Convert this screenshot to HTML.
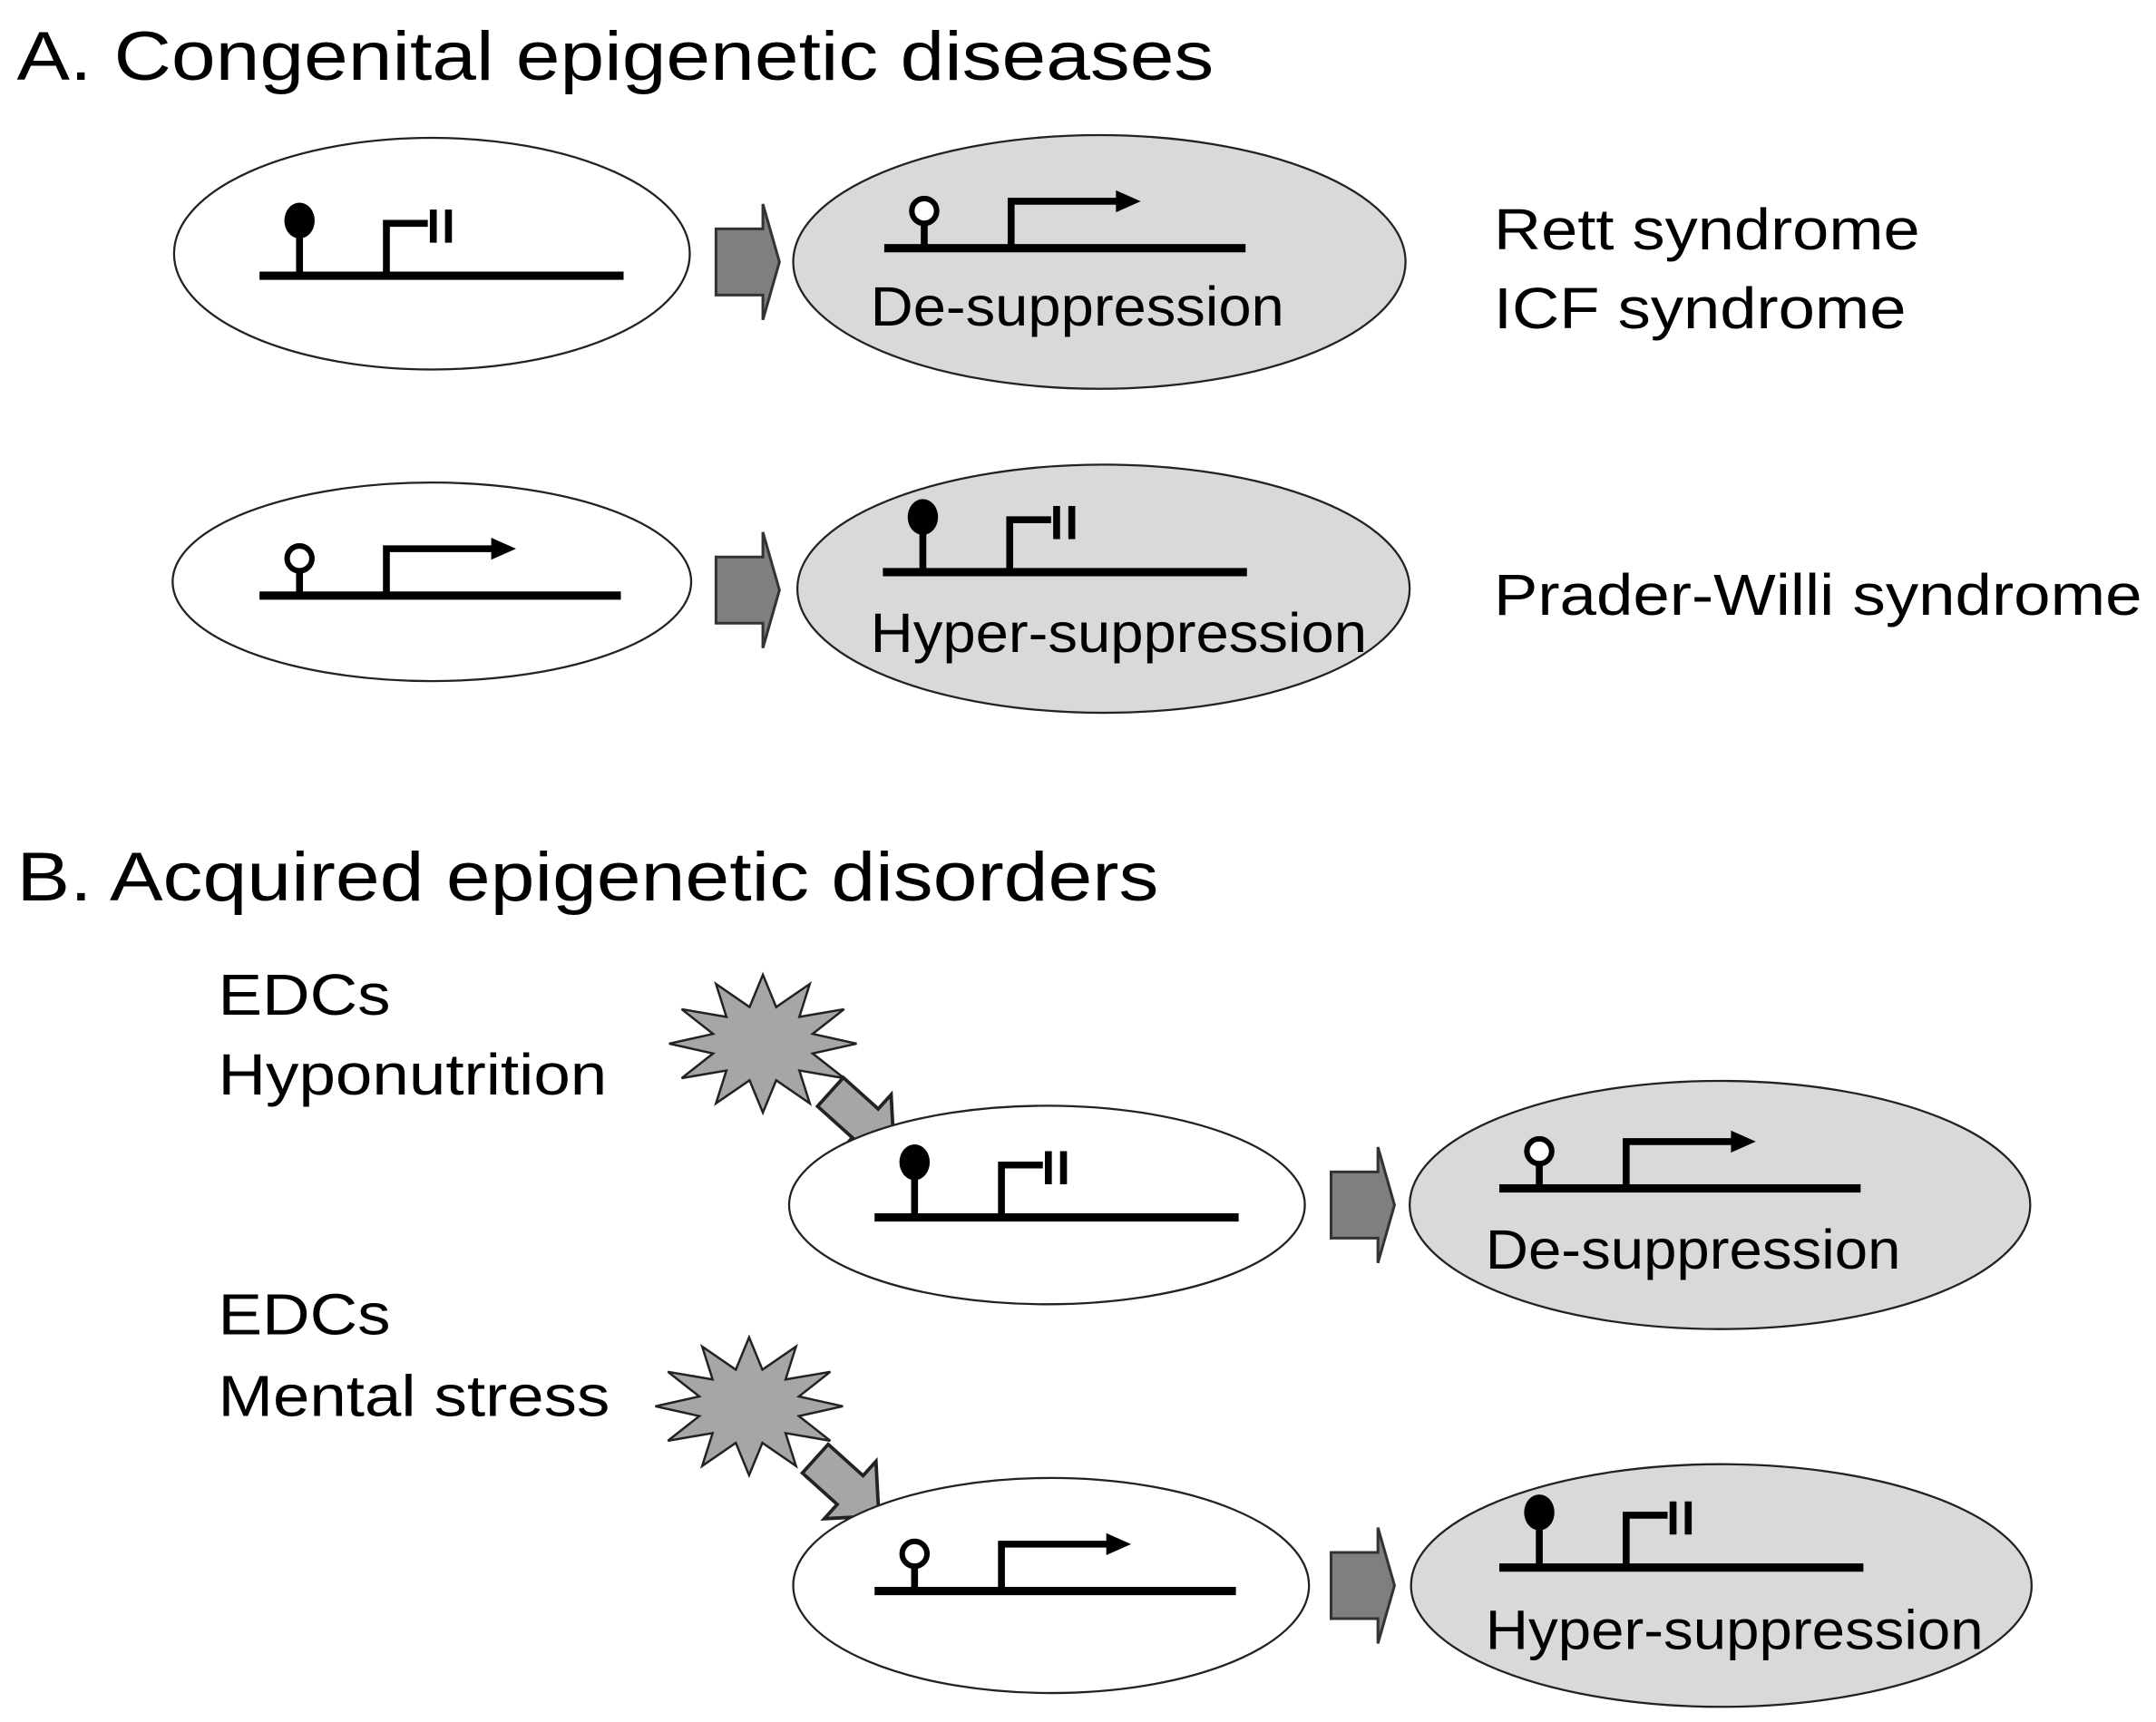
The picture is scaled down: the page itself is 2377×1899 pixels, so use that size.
<!DOCTYPE html>
<html><head><meta charset="utf-8"><style>html,body{margin:0;padding:0;background:#fff}svg{display:block}</style></head>
<body>
<svg width="2377" height="1899" viewBox="0 0 1563 1249" xmlns="http://www.w3.org/2000/svg" font-family="Liberation Sans, Arial, sans-serif">
<defs>
<g id="sup">
<line x1="0" y1="0" x2="264" y2="0" stroke="#000" stroke-width="6"/>
<line x1="29" y1="0" x2="29" y2="-32" stroke="#000" stroke-width="5"/>
<ellipse cx="29" cy="-40" rx="11" ry="13" fill="#000"/>
<polyline points="92,0 92,-38 122,-38" fill="none" stroke="#000" stroke-width="5"/>
<line x1="126" y1="-48" x2="126" y2="-24" stroke="#000" stroke-width="5"/>
<line x1="137" y1="-48" x2="137" y2="-24" stroke="#000" stroke-width="5"/>
</g>
<g id="act">
<line x1="0" y1="0" x2="262" y2="0" stroke="#000" stroke-width="6"/>
<line x1="29" y1="0" x2="29" y2="-18" stroke="#000" stroke-width="5"/>
<circle cx="29" cy="-27" r="9" fill="#fff" stroke="#000" stroke-width="4"/>
<polyline points="92,0 92,-34 172,-34" fill="none" stroke="#000" stroke-width="5"/>
<polygon points="168,-42 186,-34 168,-26" fill="#000"/>
</g>
<path id="rarr" d="M0,-24 H34 V-42 L46,0 L34,42 V24 H0 Z" fill="#7f7f7f" stroke="#333" stroke-width="2"/>
<path id="darr" d="M0,-14 H34 V-28 L62,0 L34,28 V14 H0 Z" fill="#a6a6a6" stroke="#222" stroke-width="2.5"/>
<polygon id="star" points="1,0 .531,.142 .866,.5 .389,.389 .5,.866 .142,.531 0,1 -.142,.531 -.5,.866 -.389,.389 -.866,.5 -.531,.142 -1,0 -.531,-.142 -.866,-.5 -.389,-.389 -.5,-.866 -.142,-.531 0,-1 .142,-.531 .5,-.866 .389,-.389 .866,-.5 .531,-.142" fill="#a6a6a6" stroke="#222" stroke-width="2.5" vector-effect="non-scaling-stroke"/>
</defs>

<text x="12" y="58" font-size="50" textLength="868" lengthAdjust="spacingAndGlyphs">A. Congenital epigenetic diseases</text>

<ellipse cx="313" cy="184" rx="187" ry="84" fill="#fff" stroke="#222" stroke-width="1.5"/>
<use href="#sup" transform="translate(188,200)"/>
<use href="#rarr" transform="translate(519,190)"/>
<ellipse cx="797" cy="190" rx="222" ry="92" fill="#d9d9d9" stroke="#222" stroke-width="1.5"/>
<use href="#act" transform="translate(641,180)"/>
<text x="631" y="236" font-size="40" textLength="300" lengthAdjust="spacingAndGlyphs">De-suppression</text>
<text x="1083" y="181" font-size="42" textLength="309" lengthAdjust="spacingAndGlyphs">Rett syndrome</text>
<text x="1083" y="238" font-size="42" textLength="299" lengthAdjust="spacingAndGlyphs">ICF syndrome</text>

<ellipse cx="313" cy="422" rx="188" ry="72" fill="#fff" stroke="#222" stroke-width="1.5"/>
<use href="#act" transform="translate(188,432)"/>
<use href="#rarr" transform="translate(519,428)"/>
<ellipse cx="800" cy="427" rx="222" ry="90" fill="#d9d9d9" stroke="#222" stroke-width="1.5"/>
<use href="#sup" transform="translate(640,415)"/>
<text x="631" y="473" font-size="40" textLength="360" lengthAdjust="spacingAndGlyphs">Hyper-suppression</text>
<text x="1083" y="446" font-size="42" textLength="470" lengthAdjust="spacingAndGlyphs">Prader-Willi syndrome</text>

<text x="12" y="653" font-size="50" textLength="828" lengthAdjust="spacingAndGlyphs">B. Acquired epigenetic disorders</text>

<text x="158" y="736" font-size="42" textLength="125" lengthAdjust="spacingAndGlyphs">EDCs</text>
<text x="158" y="794" font-size="42" textLength="282" lengthAdjust="spacingAndGlyphs">Hyponutrition</text>
<use href="#star" transform="translate(553,757) scale(68,50)"/>
<use href="#darr" transform="translate(602,792) rotate(42)"/>
<ellipse cx="759" cy="874" rx="187" ry="72" fill="#fff" stroke="#222" stroke-width="1.5"/>
<use href="#sup" transform="translate(634,883)"/>
<use href="#rarr" transform="translate(965,874)"/>
<ellipse cx="1247" cy="874" rx="225" ry="90" fill="#d9d9d9" stroke="#222" stroke-width="1.5"/>
<use href="#act" transform="translate(1087,862)"/>
<text x="1077" y="920" font-size="40" textLength="301" lengthAdjust="spacingAndGlyphs">De-suppression</text>

<text x="158" y="968" font-size="42" textLength="125" lengthAdjust="spacingAndGlyphs">EDCs</text>
<text x="158" y="1027" font-size="42" textLength="284" lengthAdjust="spacingAndGlyphs">Mental stress</text>
<use href="#star" transform="translate(543,1020) scale(68,50)"/>
<use href="#darr" transform="translate(591,1058) rotate(42)"/>
<ellipse cx="762" cy="1150" rx="187" ry="78" fill="#fff" stroke="#222" stroke-width="1.5"/>
<use href="#act" transform="translate(634,1154)"/>
<use href="#rarr" transform="translate(965,1150)"/>
<ellipse cx="1248" cy="1150" rx="225" ry="88" fill="#d9d9d9" stroke="#222" stroke-width="1.5"/>
<use href="#sup" transform="translate(1087,1137)"/>
<text x="1077" y="1196" font-size="40" textLength="361" lengthAdjust="spacingAndGlyphs">Hyper-suppression</text>
</svg>
</body></html>
